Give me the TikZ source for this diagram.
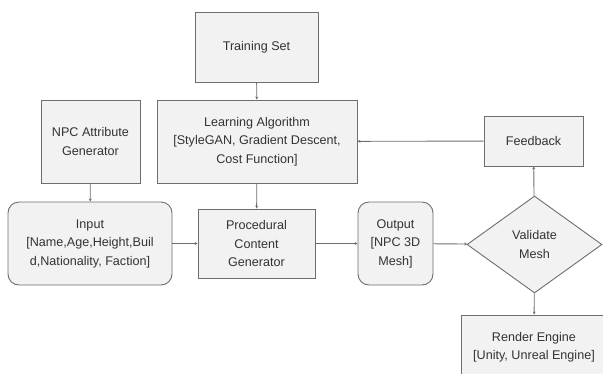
\documentclass[tikz,border=0pt]{standalone}
\usepackage{fontspec}
\setmainfont{Liberation Sans}
\usetikzlibrary{shapes.geometric, arrows.meta, positioning}
\usepackage{xcolor}
\definecolor{boxfill}{HTML}{F2F2F2}
\definecolor{boxline}{HTML}{6E6E6E}
\definecolor{txt}{HTML}{333333}

\begin{document}
\begin{tikzpicture}[x=1pt, y=-1pt,
  font=\fontsize{12.6}{18.5}\selectfont, text=txt,
  blk/.style={draw=boxline, fill=boxfill, line width=0.9pt, align=center, inner sep=2pt},
  rblk/.style={blk, rounded corners=11pt},
  chk/.style={blk, diamond, aspect=1.39, inner sep=0pt},
  arr/.style={-{Stealth[length=3pt,width=3pt]}, draw=boxline, line width=0.9pt}]
\useasboundingbox (0,0) rectangle (603,373);
\clip (0,0) rectangle (603,373);

% top row
\node[blk, minimum width=123, minimum height=70] (train) at (256.5,47) {Training Set};
\node[blk, minimum width=99, minimum height=83] (npcgen) at (90.5,141.5) {NPC Attribute\\Generator};
\node[blk, minimum width=200, minimum height=83] (learn) at (257,141.5)
  {Learning Algorithm\\{}[StyleGAN, Gradient Descent,\\Cost Function]};
\node[blk, minimum width=99, minimum height=50] (fb) at (533.5,141) {Feedback};

% main flow
\node[rblk, minimum width=164, minimum height=83] (input) at (90,243.5)
  {Input\\{}[Name,Age,Height,Buil\\d,Nationality, Faction]};
\node[blk, minimum width=117, minimum height=69] (pcg) at (256.5,243.5)
  {Procedural\\Content\\Generator};
\node[rblk, minimum width=75, minimum height=83] (out) at (395.5,243.5)
  {Output\\{}[NPC 3D\\Mesh]};
\node[chk, minimum width=135, minimum height=97] (valid) at (534.5,244.5) {Validate\\Mesh};
\node[blk, minimum width=146, minimum height=64] (render) at (534,347)
  {Render Engine\\{}[Unity, Unreal Engine]};

% connectors
\draw[arr] (train) -- (learn);
\draw[arr] (npcgen) -- (input);
\draw[arr] (learn) -- (pcg);
\draw[arr] (input) -- (pcg);
\draw[arr] (pcg) -- (out);
\draw[arr] (out) -- (valid);
\draw[arr] (valid) -- (fb);
\draw[arr] (fb) -- (learn);
\draw[arr] (valid) -- (render);
\end{tikzpicture}
\end{document}
